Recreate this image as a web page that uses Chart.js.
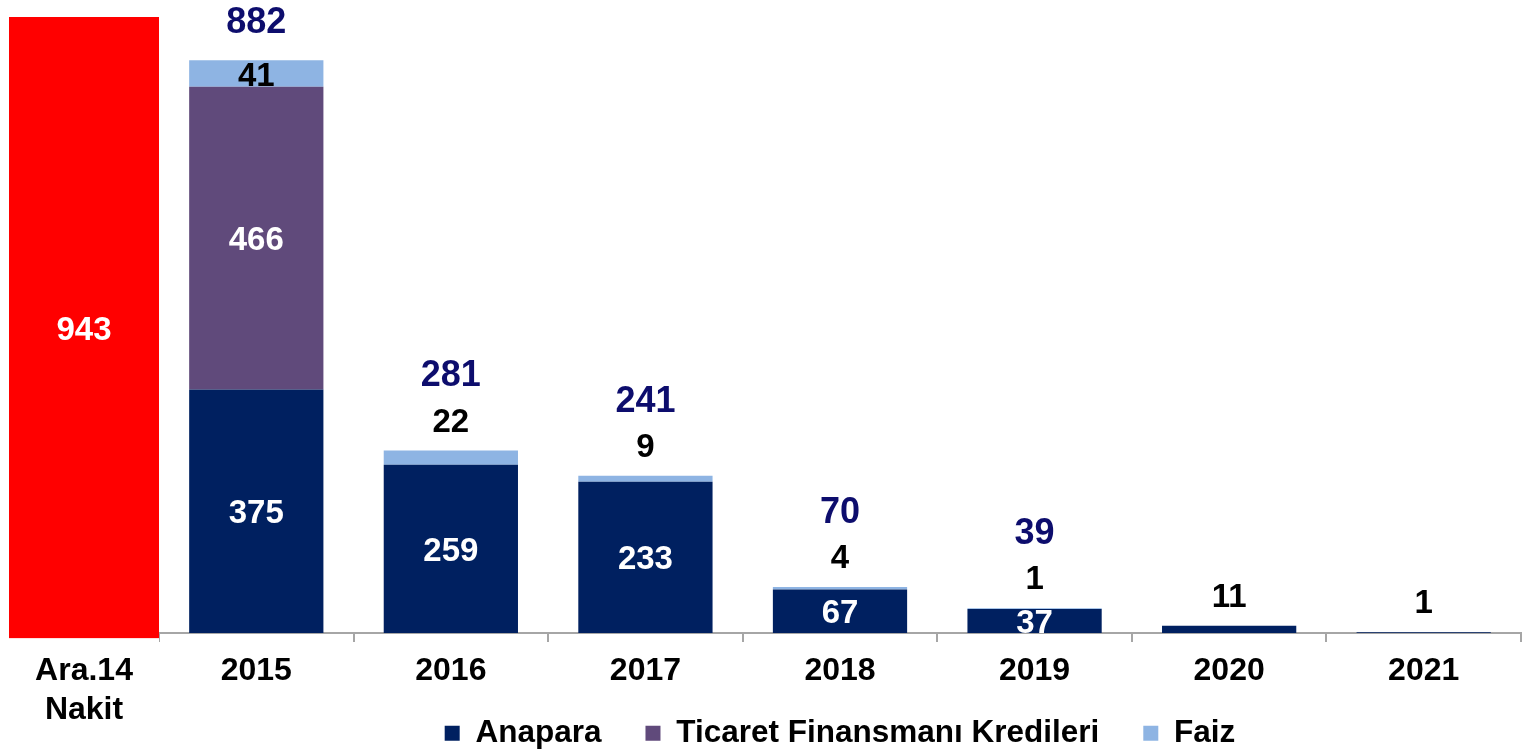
<!DOCTYPE html>
<html>
<head>
<meta charset="utf-8">
<title>Borç ödeme profili</title>
<script src="https://cdn.jsdelivr.net/npm/chart.js@4.4.0/dist/chart.umd.min.js"></script>
<style>
  body { margin: 0; background: #fff; }
  #wrap { position: relative; width: 1527px; height: 752px; overflow: hidden; }
  #nakitChart { position: absolute; left: 0; top: 0; }
  #borcChart { position: absolute; left: 159px; top: 0; }
</style>
</head>
<body>
<div id="wrap">
  <canvas id="nakitChart" width="160" height="752"></canvas>
  <canvas id="borcChart" width="1368" height="752"></canvas>
</div>
<script>
// eldeki nakit
var nakitLabels = [["Ara.14", "Nakit"]];
var nakit = [943];

// vadesine göre geri ödemeler
var years = ["2015", "2016", "2017", "2018", "2019", "2020", "2021"];
var anapara = [375, 259, 233, 67, 37, 11, 1];
var ticaret = [466, null, null, null, null, null, null];
var faiz = [41, 22, 9, 4, 1, null, null];
var toplam = [882, 281, 241, 70, 39, null, null];

var family = "'Liberation Sans', Arial, sans-serif";
Chart.defaults.font.family = family;

// değer etiketleri: büyük dilimlerde ortada, küçüklerde sütunun üstünde
var valueLabels = {
    id: 'valueLabels',
    afterDatasetsDraw: function(chart, args, opts) {
        var ctx = chart.ctx;
        var totals = opts.totals || [];
        ctx.save();
        ctx.textAlign = 'center';
        ctx.textBaseline = 'middle';

        chart.data.labels.forEach(function(lbl, j) {
            var stackTop = null, x = null, above = null;
            chart.data.datasets.forEach(function(ds, i) {
                if (ds.data[j] == null) return;
                var bar = chart.getDatasetMeta(i).data[j];
                x = bar.x;
                stackTop = stackTop == null ? bar.y : Math.min(stackTop, bar.y);
            });
            if (x == null) return;

            var nextY = stackTop - 28;
            chart.data.datasets.forEach(function(ds, i) {
                var v = ds.data[j];
                if (v == null) return;
                var bar = chart.getDatasetMeta(i).data[j];
                ctx.font = 'bold 33px ' + family;
                if (bar.base - bar.y > 20) {
                    ctx.fillStyle = ds.labelColor;
                    ctx.fillText(v, bar.x, (bar.y + bar.base) / 2 + 3);
                } else {
                    ctx.fillStyle = '#000';
                    ctx.fillText(v, bar.x, nextY);
                    above = nextY;
                    nextY -= 40;
                }
            });

            if (totals[j] != null) {
                ctx.font = 'bold 36px ' + family;
                ctx.fillStyle = '#0D0D6D';
                ctx.fillText(totals[j], x, above != null ? above - 46 : stackTop - 37);
            }
        });
        ctx.restore();
    }
};

// eksen yazıları lejantın üst boşluğuna taşsın diye kırpma alanını aşağı uzat
var axisLabelRoom = {
    id: 'axisLabelRoom',
    afterLayout: function(chart) {
        chart.scales.x.bottom = chart.height;
    }
};

new Chart(document.getElementById('nakitChart'), {
    type: 'bar',
    data: {
        labels: nakitLabels,
        datasets: [{
            label: 'Nakit',
            data: nakit,
            backgroundColor: '#FF0000',
            labelColor: '#fff',
            categoryPercentage: 1,
            barPercentage: 1
        }]
    },
    options: {
        responsive: false,
        animation: false,
        layout: { padding: { top: 17, left: 9, right: 1, bottom: 9 } },
        scales: {
            x: {
                grid: { display: false, drawTicks: false, tickLength: 0 },
                border: { display: false },
                ticks: { color: '#000', padding: 14, font: { size: 32, weight: 'bold' } }
            },
            y: { display: false, min: 0, max: 943 }
        },
        plugins: {
            legend: { display: false },
            tooltip: { enabled: false },
            valueLabels: {}
        }
    },
    plugins: [valueLabels]
});

new Chart(document.getElementById('borcChart'), {
    type: 'bar',
    data: {
        labels: years,
        datasets: [
            { label: 'Anapara', data: anapara, backgroundColor: '#002060', labelColor: '#fff' },
            { label: 'Ticaret Finansmanı Kredileri', data: ticaret, backgroundColor: '#604A7B', labelColor: '#fff' },
            { label: 'Faiz', data: faiz, backgroundColor: '#8EB4E3', labelColor: '#000' }
        ]
    },
    options: {
        responsive: false,
        animation: false,
        layout: { padding: { top: 16, left: 0, right: 6, bottom: -7 } },
        datasets: { bar: { categoryPercentage: 1, barPercentage: 0.69, borderWidth: 0 } },
        scales: {
            x: {
                stacked: true,
                grid: { drawOnChartArea: false, color: '#A6A6A6', lineWidth: 2, tickLength: 9 },
                border: { color: '#A6A6A6', width: 2 },
                ticks: { color: '#000', padding: 10, font: { size: 32, weight: 'bold' } },
                afterFit: function(scale) { scale.height = 40.5; }
            },
            y: { stacked: true, display: false, min: 0, max: 950 }
        },
        plugins: {
            legend: {
                position: 'bottom',
                labels: {
                    boxWidth: 15,
                    boxHeight: 15,
                    padding: 44,
                    color: '#000',
                    font: { size: 31.5, weight: 'bold' }
                }
            },
            tooltip: { enabled: false },
            valueLabels: { totals: toplam }
        }
    },
    plugins: [valueLabels, axisLabelRoom]
});
</script>
</body>
</html>
